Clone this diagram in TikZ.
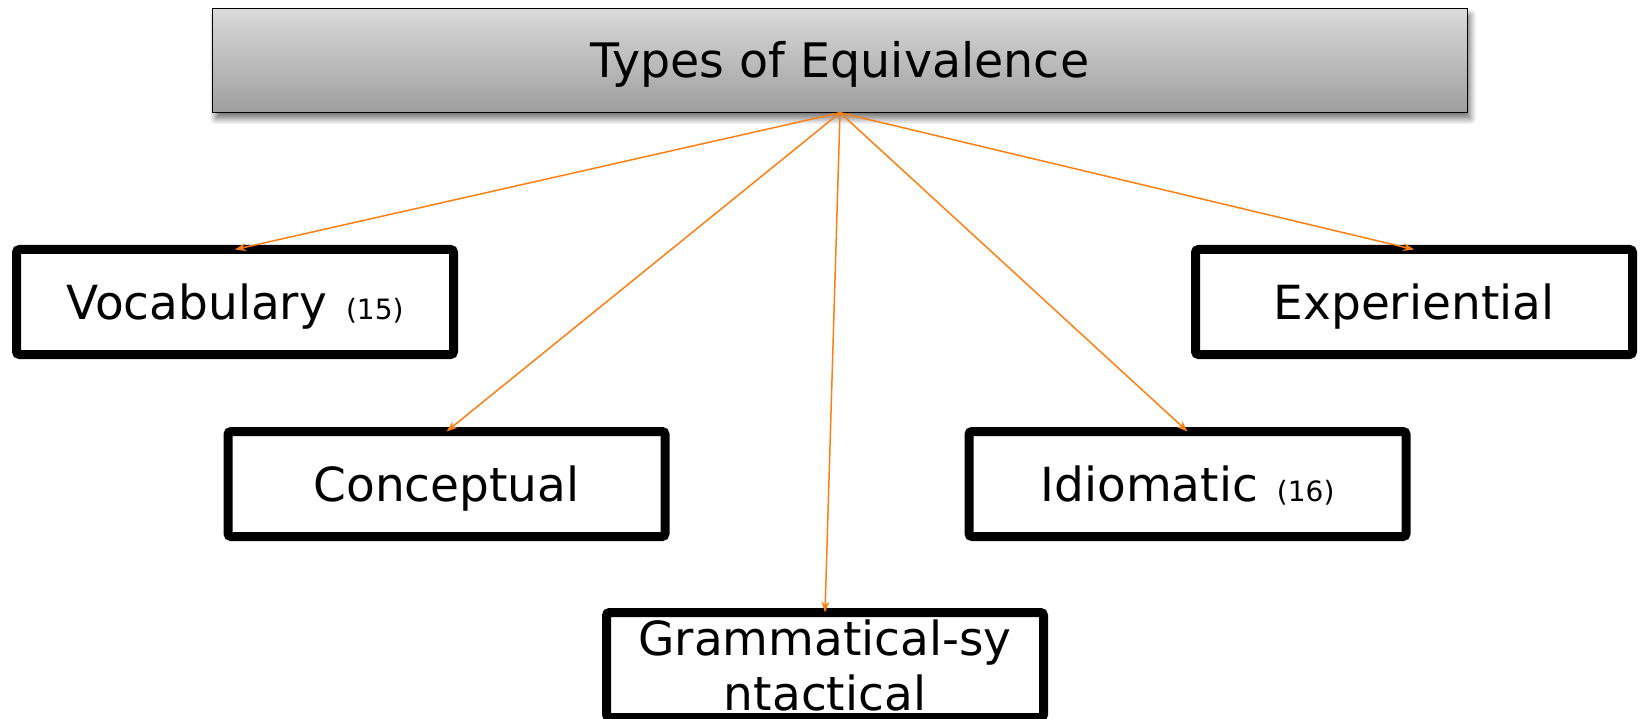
\documentclass[tikz,border=0pt]{standalone}
\usepackage{fontspec}
\setmainfont{DejaVu Sans}
\usetikzlibrary{arrows.meta,shadows.blur}

\definecolor{linkorange}{RGB}{250,128,20}
\definecolor{headtop}{RGB}{218,218,218}
\definecolor{headbottom}{RGB}{158,158,158}

\newcommand{\srcnum}[1]{\hspace{19pt}{\fontsize{28}{30}\selectfont(#1)}}

\begin{document}
\begin{tikzpicture}[x=1pt,y=-1pt,
head/.style={draw=black,line width=1.5pt,top color=headtop,bottom color=headbottom,
  minimum width=1255pt,minimum height=104pt,inner sep=0pt,outer sep=0pt,
  font=\fontsize{47.5}{55}\selectfont,text height=34.6pt,text depth=0pt,
  blur shadow={shadow xshift=3pt,shadow yshift=-6pt,shadow opacity=55,
    shadow blur radius=6pt,shadow blur steps=10}},
box/.style={draw=black,line width=9pt,rounded corners=3pt,fill=white,
  minimum width=437pt,minimum height=105pt,inner sep=0pt,outer sep=0pt,
  font=\fontsize{47}{55}\selectfont},
word/.style={text height=34.3pt,text depth=0pt},
link/.style={-{Stealth[length=11pt,width=8pt]},draw=linkorange,line width=1.5pt} ]

\useasboundingbox (0,0) rectangle (1640,719);

\node[head](types) at (840,60.7) {Types of Equivalence};

\node[box,word](vocab) at (235,302) {Vocabulary\srcnum{15}};

\node[box,word](exper) at (1414,302) {Experiential};

\node[box,word](concept) at (446.5,484) {Conceptual};

\node[box,word](idiom) at (1187.5,484) {Idiomatic\srcnum{16}};

\node[box,align=center](gram) at (825,665) {Grammatical-sy\\ntactical};

\draw[link] (types.south) -- (vocab.north);

\draw[link] (types.south) -- (concept.north);

\draw[link] (types.south) -- (gram.north);

\draw[link] (types.south) -- (idiom.north);

\draw[link] (types.south) -- (exper.north);
\end{tikzpicture}
\end{document}
